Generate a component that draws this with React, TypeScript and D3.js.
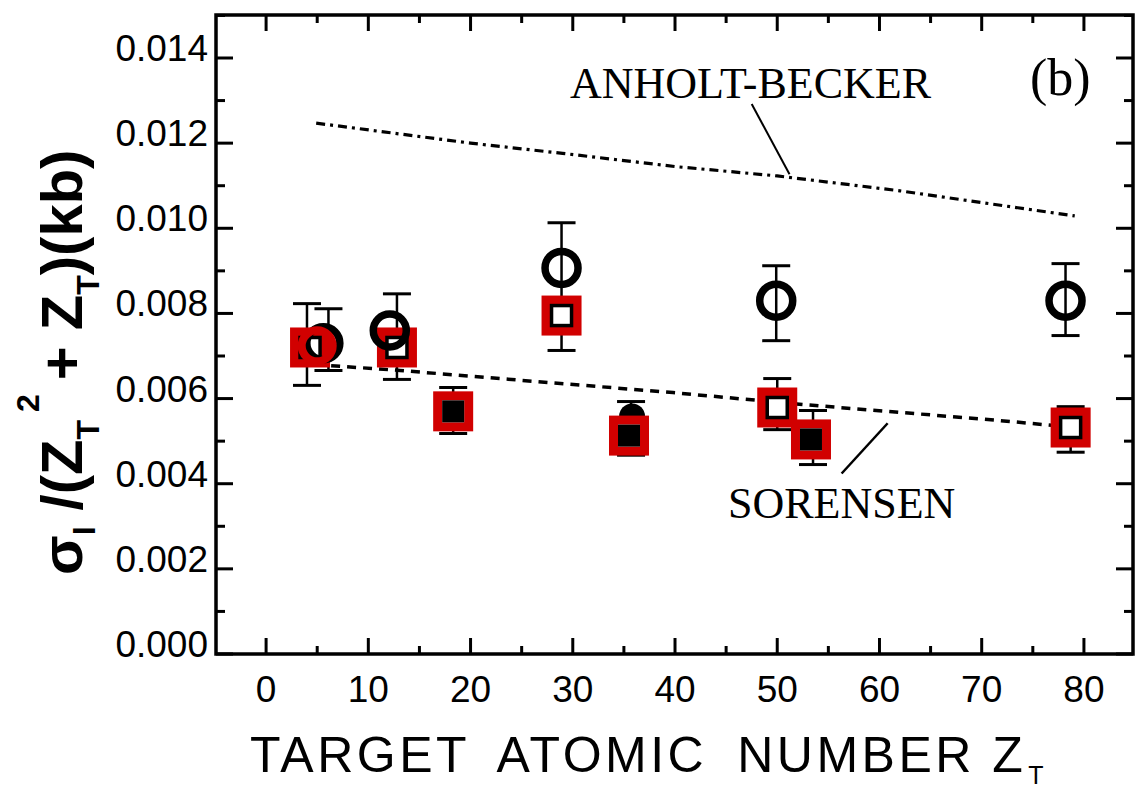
import React from "react";
import * as d3 from "d3";

const W = 1142;
const H = 797;

// ---- data ----
const xTicks = [0, 10, 20, 30, 40, 50, 60, 70, 80];
const yTicks = [0, 0.002, 0.004, 0.006, 0.008, 0.01, 0.012, 0.014];

const openCircleZ = [5.6, 12.1, 28.9, 49.9, 78.2];
const openCircleV = [0.0073, 0.0076, 0.00907, 0.0083, 0.0083];

const filledCircleZ = [35.8];
const filledCircleV = [0.00558];

const openSquareZ = [4.3, 12.8, 28.9, 50.0, 78.7];
const openSquareV = [0.0072, 0.0072, 0.00795, 0.00579, 0.00532];

const filledSquareZ = [18.3, 35.5, 53.3];
const filledSquareV = [0.0057, 0.00513, 0.00504];

const redSquareZ = [4.3, 12.8, 18.3, 28.9, 35.5, 50.0, 53.3, 78.7];
const redSquareV = [0.0072, 0.0072, 0.0057, 0.00795, 0.00513, 0.00579, 0.00504, 0.00532];

const redCircleZ = [5.0];
const redCircleV = [0.00724];

const errZ = [4.0, 6.1, 12.8, 28.9, 18.3, 35.7, 49.9, 50.0, 53.5, 78.2, 78.7];
const errLo = [0.00631, 0.00666, 0.00645, 0.00713, 0.00518, 0.00467, 0.00736, 0.00527, 0.00445, 0.00748, 0.00474];
const errHi = [0.00823, 0.00811, 0.00846, 0.01013, 0.00626, 0.00593, 0.00912, 0.00647, 0.00572, 0.00917, 0.00581];

const anholtZ = [4.9, 20, 29, 40, 50, 62, 79.1];
const anholtV = [0.01247, 0.0120, 0.01176, 0.01145, 0.01123, 0.01088, 0.01029];

const sorensenZ = [4.8, 13.1, 39.8, 52.5, 71.5, 80.1];
const sorensenV = [0.0068, 0.00666, 0.00614, 0.00586, 0.00549, 0.0053];

const anholtLeader = [[47.5, 0.01292], [51.2, 0.01127]];
const sorensenLeader = [[60.8, 0.00542], [56.3, 0.00424]];

const RED = "#d10000";

export default function App() {
  const x = d3.scaleLinear().domain([-4.9, 84.8]).range([216, 1133]);
  const y = d3.scaleLinear().domain([0, 0.01501]).range([654, 15]);
  const line = d3
    .line<[number, number]>()
    .x((d) => x(d[0]))
    .y((d) => y(d[1]));

  const xMinor = d3.range(0, 85, 5).filter((v) => v % 10 !== 0);
  const yMinor = d3.range(0.001, 0.0151, 0.002);
  const fmt = d3.format(".3f");
  const [x0, x1] = x.range();
  const [y0, y1] = y.range();

  const sans = "'Liberation Sans', Arial, sans-serif";
  const serif = "'Liberation Serif', 'Times New Roman', serif";

  const rSq = 15.5; // half side of red square
  const sq = 10; // half side of small square
  const rc = 16.5;

  return (
    <svg
      width={W}
      height={H}
      style={{ position: "absolute", left: 0, top: 0, background: "#fff" }}
    >
      {/* error bars */}
      <g stroke="#000" strokeWidth={2.5}>
        {errZ.map((z, i) => (
          <g key={"e" + i}>
            <line x1={x(z)} x2={x(z)} y1={y(errLo[i])} y2={y(errHi[i])} />
            <line x1={x(z) - 14} x2={x(z) + 14} y1={y(errLo[i])} y2={y(errLo[i])} strokeWidth={3} />
            <line x1={x(z) - 14} x2={x(z) + 14} y1={y(errHi[i])} y2={y(errHi[i])} strokeWidth={3} />
          </g>
        ))}
      </g>

      {/* theory lines */}
      <path
        d={line(anholtZ.map((z, i) => [z, anholtV[i]]) as any) || ""}
        fill="none"
        stroke="#000"
        strokeWidth={3.2}
        strokeDasharray="9,5,3,5"
      />
      <path
        d={line(sorensenZ.map((z, i) => [z, sorensenV[i]]) as any) || ""}
        fill="none"
        stroke="#000"
        strokeWidth={3.5}
        strokeDasharray="9,7"
      />
      <path d={line(anholtLeader as any) || ""} stroke="#000" strokeWidth={2} fill="none" />
      <path d={line(sorensenLeader as any) || ""} stroke="#000" strokeWidth={2.5} fill="none" />

      {/* hidden filled circle */}
      {filledCircleZ.map((z, i) => (
        <circle key={"fc" + i} cx={x(z)} cy={y(filledCircleV[i])} r={13} fill="#000" />
      ))}

      {/* red squares */}
      {redSquareZ.map((z, i) => (
        <rect
          key={"rs" + i}
          x={x(z) - rSq}
          y={y(redSquareV[i]) - rSq}
          width={rSq * 2}
          height={rSq * 2}
          fill="#fff"
          stroke={RED}
          strokeWidth={9}
        />
      ))}
      {openSquareZ.map((z, i) => (
        <rect
          key={"os" + i}
          x={x(z) - sq}
          y={y(openSquareV[i]) - sq}
          width={sq * 2}
          height={sq * 2}
          fill="#fff"
          stroke="#000"
          strokeWidth={3.5}
        />
      ))}
      {filledSquareZ.map((z, i) => (
        <rect
          key={"fs" + i}
          x={x(z) - 11}
          y={y(filledSquareV[i]) - 11}
          width={22}
          height={22}
          fill="#000"
        />
      ))}
      {openCircleZ.map((z, i) => (
        <circle
          key={"oc" + i}
          cx={x(z)}
          cy={y(openCircleV[i])}
          r={rc}
          fill="none"
          stroke="#000"
          strokeWidth={7.5}
        />
      ))}
      {redCircleZ.map((z, i) => (
        <circle
          key={"rc" + i}
          cx={x(z)}
          cy={y(redCircleV[i])}
          r={15.5}
          fill="none"
          stroke={RED}
          strokeWidth={8}
        />
      ))}

      {/* frame */}
      <rect x={x0} y={y1} width={x1 - x0} height={y0 - y1} fill="none" stroke="#000" strokeWidth={3.5} />

      {/* ticks */}
      <g stroke="#000" strokeWidth={3}>
        {xTicks.map((t) => (
          <g key={"xt" + t}>
            <line x1={x(t)} x2={x(t)} y1={y0} y2={y0 - 16} />
            <line x1={x(t)} x2={x(t)} y1={y1} y2={y1 + 16} />
          </g>
        ))}
        {xMinor.map((t) => (
          <g key={"xm" + t}>
            <line x1={x(t)} x2={x(t)} y1={y0} y2={y0 - 8} />
            <line x1={x(t)} x2={x(t)} y1={y1} y2={y1 + 8} />
          </g>
        ))}
        {yTicks.map((t) => (
          <g key={"yt" + t}>
            <line x1={x0} x2={x0 + 17} y1={y(t)} y2={y(t)} />
            <line x1={x1} x2={x1 - 17} y1={y(t)} y2={y(t)} />
          </g>
        ))}
        {yMinor.map((t) => (
          <g key={"ym" + t}>
            <line x1={x0} x2={x0 + 9} y1={y(t)} y2={y(t)} />
            <line x1={x1} x2={x1 - 9} y1={y(t)} y2={y(t)} />
          </g>
        ))}
      </g>

      {/* tick labels */}
      <g fontFamily={sans} fontSize={37} fill="#000">
        {yTicks.map((t) => (
          <text key={"yl" + t} x={208} y={y(t) + 3} textAnchor="end">
            {fmt(t)}
          </text>
        ))}
        {xTicks.map((t) => (
          <text key={"xl" + t} x={x(t)} y={702} textAnchor="middle">
            {t}
          </text>
        ))}
      </g>

      {/* x title */}
      <text fontFamily={sans} fontSize={50} letterSpacing={3.5} x={250} y={772}>
        <tspan>TARGET</tspan>
        <tspan dx={30}>ATOMIC</tspan>
        <tspan dx={30}>NUMBER Z</tspan>
        <tspan fontSize={25} dx={2} dy={12}>T</tspan>
      </text>

      {/* y title */}
      <text
        transform="translate(82,575) rotate(-90)"
        fontFamily={sans}
        fontWeight="bold"
        fontSize={58}
      >
        <tspan>σ</tspan>
        <tspan fontSize={32} dy={13}>I</tspan>
        <tspan dx={16} dy={-13}>/(Z</tspan>
        <tspan fontSize={32} dy={17}>T</tspan>
        <tspan fontSize={32} dx={8} dy={-60}>2</tspan>
        <tspan dx={14} dy={43}>+ Z</tspan>
        <tspan fontSize={32} dy={17}>T</tspan>
        <tspan dy={-17}>)(kb)</tspan>
      </text>

      {/* annotations */}
      <text fontFamily={serif} fontSize={44} x={570} y={98}>
        ANHOLT-BECKER
      </text>
      <text fontFamily={serif} fontSize={52} x={1030} y={95}>
        (b)
      </text>
      <text fontFamily={serif} fontSize={44} x={728} y={518}>
        SORENSEN
      </text>
    </svg>
  );
}
